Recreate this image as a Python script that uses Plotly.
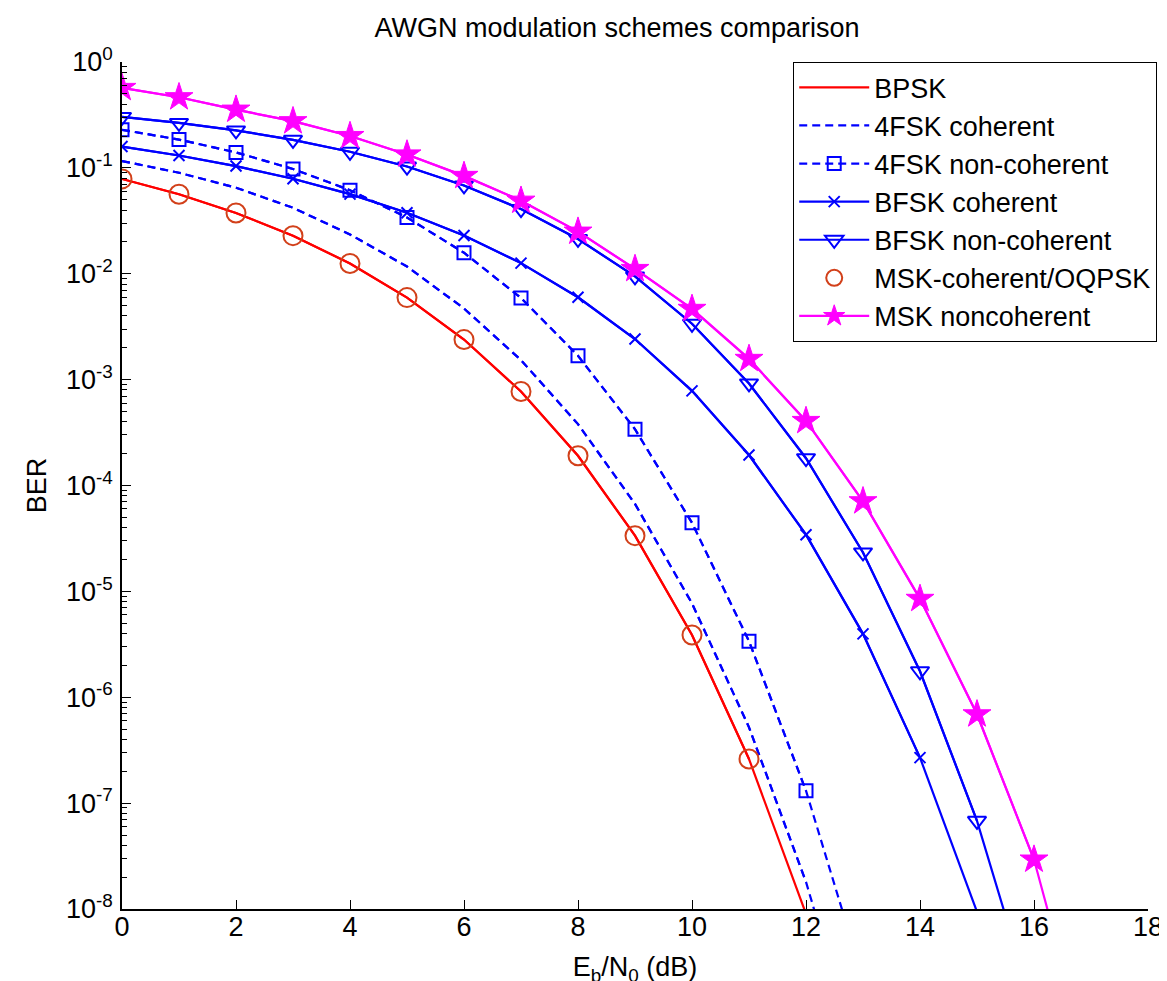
import plotly.graph_objects as go

# ---------------- data ----------------
ebn0 = list(range(0, 18))  # Eb/N0 in dB

bpsk = [7.86e-2, 5.63e-2, 3.75e-2, 2.29e-2, 1.25e-2, 5.95e-3, 2.39e-3,
        7.73e-4, 1.91e-4, 3.36e-5, 3.87e-6, 2.61e-7, 9.0e-9, 1.3e-10]
fsk4_coherent = [0.116, 0.090, 0.065, 0.042, 0.0235, 0.0117, 4.7e-3,
                 1.53e-3, 3.8e-4, 6.7e-5, 7.7e-6, 5.2e-7, 1.8e-8, 2.7e-10]
fsk4_noncoherent = [0.229, 0.185, 0.140, 0.0977, 0.0615, 0.034, 0.0158,
                    5.9e-3, 1.68e-3, 3.4e-4, 4.44e-5, 3.38e-6, 1.31e-7, 2.2e-9]
bfsk_coherent = [0.159, 0.131, 0.104, 0.0789, 0.0565, 0.0377, 0.0230,
                 0.0126, 6.0e-3, 2.42e-3, 7.83e-4, 1.94e-4, 3.43e-5,
                 3.97e-6, 2.69e-7, 9.4e-9, 1.4e-10]
bfsk_noncoherent = [0.303, 0.266, 0.226, 0.184, 0.142, 0.103, 0.0683,
                    0.0408, 0.0213, 9.43e-3, 3.37e-3, 9.2e-4, 1.81e-4,
                    2.33e-5, 1.76e-6, 6.8e-8, 1.1e-9]
msk_coherent = [7.86e-2, 5.63e-2, 3.75e-2, 2.29e-2, 1.25e-2, 5.95e-3,
                2.39e-3, 7.73e-4, 1.91e-4, 3.36e-5, 3.87e-6, 2.61e-7]
msk_noncoherent = [0.569, 0.465, 0.355, 0.276, 0.200, 0.134, 0.084, 0.049,
                   0.025, 0.0111, 4.66e-3, 1.57e-3, 4.07e-4, 7.1e-5, 8.5e-6,
                   6.9e-7, 2.93e-8, 3.0e-10]

x_ticks = [0, 2, 4, 6, 8, 10, 12, 14, 16, 18]
y_exps = [-8, -7, -6, -5, -4, -3, -2, -1, 0]

title_text = "AWGN modulation schemes comparison"
x_title = "E<sub>b</sub>/N<sub>0</sub> (dB)"
y_title = "BER"

# ---------------- styling ----------------
FONT = "Liberation Sans, Arial, Helvetica, sans-serif"
FS = 27
RED = "#FF0000"
BLUE = "#0000FF"
ORANGE = "#D2401A"
MAGENTA = "#FF00FF"
YMIN = 1e-8
LW = 2.2

fig = go.Figure()


def add_series(name, y, color, dash=None, symbol=None, msize=None,
               show_line=True, mwidth=2):
    x = ebn0[:len(y)]
    vis_x = [a for a, b in zip(x, y) if b >= YMIN]
    vis_y = [b for b in y if b >= YMIN]
    line = dict(color=color, width=LW, dash=dash) if show_line else None
    if show_line:
        fig.add_trace(go.Scatter(x=x, y=y, mode="lines", line=line,
                                 showlegend=False, legendgroup=name,
                                 hoverinfo="skip"))
    if symbol is None:
        mode = "lines"
        marker = None
    else:
        mode = "lines+markers" if show_line else "markers"
        marker = dict(symbol=symbol, size=msize, color=color,
                      line=dict(color=color, width=mwidth))
    fig.add_trace(go.Scatter(x=vis_x, y=vis_y, mode=mode, name=name,
                             line=line if show_line else None,
                             marker=marker, legendgroup=name))


add_series("BPSK", bpsk, RED)
add_series("4FSK coherent", fsk4_coherent, BLUE, dash="8px,5px")
add_series("4FSK non-coherent", fsk4_noncoherent, BLUE, dash="8px,5px",
           symbol="square-open", msize=13)
add_series("BFSK coherent", bfsk_coherent, BLUE, symbol="x-thin-open",
           msize=11)
add_series("BFSK non-coherent", bfsk_noncoherent, BLUE,
           symbol="triangle-down-open", msize=16)
add_series("MSK-coherent/OQPSK", msk_coherent, ORANGE, symbol="circle-open",
           msize=19, show_line=False)
add_series("MSK noncoherent", msk_noncoherent, MAGENTA, symbol="star",
           msize=21, mwidth=1)

# minor ticks on the log axis
minor_vals = [m * 10.0 ** e for e in y_exps[:-1] for m in range(2, 10)]

fig.update_layout(
    width=1167, height=981,
    margin=dict(l=114, r=18, t=54, b=77),
    paper_bgcolor="white", plot_bgcolor="white",
    font=dict(family=FONT, size=FS, color="black"),
    title=dict(text=title_text, x=609 / 1167, xanchor="center",
               y=1 - 20 / 981, yanchor="middle",
               font=dict(family=FONT, size=FS, color="black")),
    showlegend=True,
    legend=dict(x=1.0087, xanchor="right", y=1.0, yanchor="top",
                bgcolor="white", bordercolor="black", borderwidth=1.3,
                font=dict(family=FONT, size=27, color="black"),
                itemwidth=70, tracegroupgap=0,
                entrywidth=330, entrywidthmode="pixels"),
)

fig.update_xaxes(
    range=[0, 18], tickmode="array", tickvals=x_ticks,
    ticktext=[str(t) for t in x_ticks],
    ticks="inside", ticklen=9, tickwidth=1.2, tickcolor="black",
    ticklabelstandoff=-7,
    showline=True, linecolor="black", linewidth=1.5, mirror=False,
    showgrid=False, zeroline=False,
    tickfont=dict(family=FONT, size=FS, color="black"),
    title=dict(text=x_title, standoff=16,
               font=dict(family=FONT, size=FS, color="black")),
)

fig.update_yaxes(
    type="log", range=[-8, 0], tickmode="array",
    tickvals=[10.0 ** e for e in y_exps],
    ticktext=["10<sup>%d</sup>" % e for e in y_exps],
    ticks="inside", ticklen=9, tickwidth=1.2, tickcolor="black",
    minor=dict(tickmode="array", tickvals=minor_vals, ticks="inside",
               ticklen=5, tickwidth=1.2, tickcolor="black", showgrid=False),
    ticklabelstandoff=2,
    showline=True, linecolor="black", linewidth=1.5, mirror=False,
    showgrid=False, zeroline=False,
    tickfont=dict(family=FONT, size=FS, color="black"),
    title=dict(text=y_title, standoff=12,
               font=dict(family=FONT, size=FS, color="black")),
)

fig.write_html("out.html")
